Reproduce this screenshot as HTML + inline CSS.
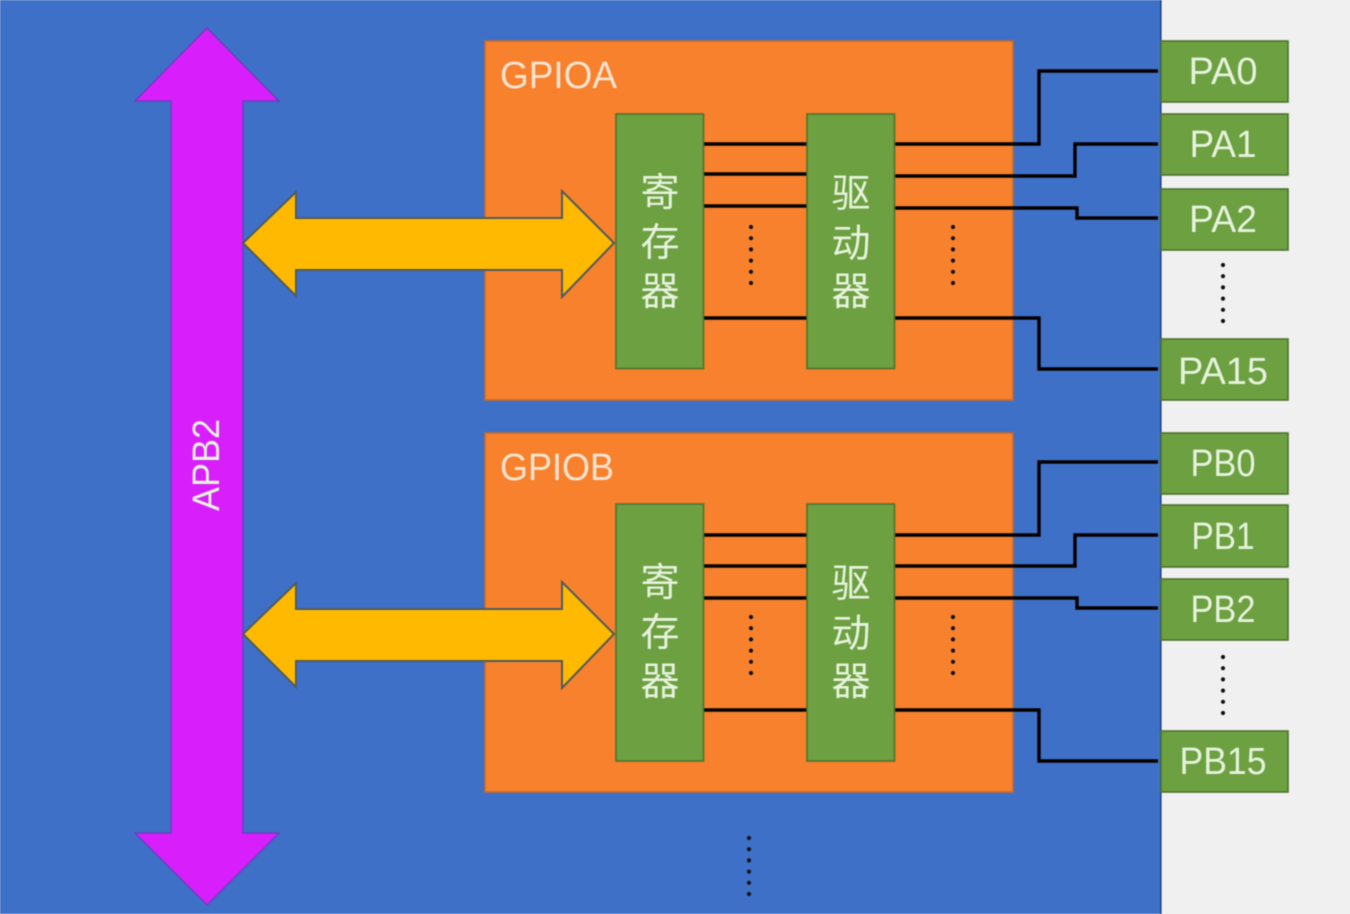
<!DOCTYPE html>
<html lang="zh">
<head>
<meta charset="utf-8">
<title>GPIO diagram</title>
<style>
html,body{margin:0;padding:0;background:#f0f0f0;width:1350px;height:914px;overflow:hidden}
svg{display:block;filter:blur(0.5px)}
text{font-family:"Liberation Sans","Noto Sans CJK SC",sans-serif;fill:#e6f2dc;text-anchor:middle}
.cjk{font-family:"Noto Sans CJK SC","WenQuanYi Zen Hei",sans-serif;font-weight:400;font-size:39px}
.pin{font-size:38px}
.title{font-size:38px;fill:#fbe3cf;text-anchor:start}
.g{fill:#6ca041;stroke:#4f722d;stroke-width:1.6}
.o{fill:#f7812d;stroke:#c86a2a;stroke-width:1.6}
.l{fill:none;stroke:#000;stroke-width:3.4}
.y{fill:#ffb900;stroke:#4f5b5c;stroke-width:2}
.d{fill:none;stroke:#111;stroke-width:4.2;stroke-linecap:round;stroke-dasharray:0 11.2}
</style>
</head>
<body>
<svg width="1350" height="914" viewBox="0 0 1350 914" xmlns="http://www.w3.org/2000/svg">
<rect width="1350" height="914" fill="#f0f0f0"/>
<rect x="0" y="0" width="1161" height="914" fill="#3f70c7"/>
<rect x="1160" y="0" width="1.6" height="914" fill="#23457f"/>

<!-- GPIO boxes -->
<rect class="o" x="485" y="41" width="528" height="359"/>
<rect class="o" x="485" y="433" width="528" height="359"/>
<text class="title" x="500" y="88" textLength="117" lengthAdjust="spacingAndGlyphs">GPIOA</text>
<text class="title" x="500" y="480" textLength="114" lengthAdjust="spacingAndGlyphs">GPIOB</text>

<!-- Lines A -->
<path class="l" d="M703 144H807M703 174H807M703 206H807M703 318H807"/>
<path class="l" d="M894 144H1039V71H1158M894 176H1075V144H1158M894 208H1077V218H1158M894 318H1039V369H1158"/>
<!-- Lines B -->
<path class="l" d="M703 535H807M703 566H807M703 598H807M703 710H807"/>
<path class="l" d="M894 535H1039V462H1158M894 566H1075V535H1158M894 598H1077V608H1158M894 710H1039V761H1158"/>

<!-- Magenta arrow -->
<polygon points="207,28 279,101 243,101 243,833 279,833 207,905 135,833 171,833 171,101 135,101" fill="#d81ffb" stroke="#6a3fc0" stroke-width="1.5"/>
<text x="0" y="0" transform="translate(219,465) rotate(-90)" font-size="38" textLength="92" lengthAdjust="spacingAndGlyphs">APB2</text>

<!-- Yellow arrows -->
<polygon class="y" points="243,243 296,192 296,218 562,218 562,191 614,243 562,297 562,270 296,270 296,296"/>
<polygon class="y" points="243,634 296,583 296,609 562,609 562,582 614,634 562,688 562,661 296,661 296,687"/>

<!-- Register / driver A -->
<rect class="g" x="616" y="114" width="87.5" height="254.5"/>
<rect class="g" x="807" y="114" width="87.5" height="254.5"/>
<text class="cjk" x="660" y="206">寄</text>
<text class="cjk" x="660" y="256">存</text>
<text class="cjk" x="660" y="305">器</text>
<text class="cjk" x="851" y="207">驱</text>
<text class="cjk" x="851" y="257">动</text>
<text class="cjk" x="851" y="305">器</text>

<!-- Register / driver B -->
<rect class="g" x="616" y="504" width="87.5" height="257"/>
<rect class="g" x="807" y="504" width="87.5" height="257"/>
<text class="cjk" x="660" y="596">寄</text>
<text class="cjk" x="660" y="646">存</text>
<text class="cjk" x="660" y="695">器</text>
<text class="cjk" x="851" y="597">驱</text>
<text class="cjk" x="851" y="647">动</text>
<text class="cjk" x="851" y="695">器</text>

<!-- Pins -->
<rect class="g" x="1161" y="41" width="127" height="61"/>
<rect class="g" x="1161" y="114" width="127" height="61"/>
<rect class="g" x="1161" y="189" width="127" height="61"/>
<rect class="g" x="1161" y="339" width="127" height="61"/>
<rect class="g" x="1161" y="433" width="127" height="61"/>
<rect class="g" x="1161" y="505" width="127" height="62"/>
<rect class="g" x="1161" y="579" width="127" height="61"/>
<rect class="g" x="1161" y="731" width="127" height="61"/>
<text class="pin" x="1223" y="84" textLength="69" lengthAdjust="spacingAndGlyphs">PA0</text>
<text class="pin" x="1223" y="157" textLength="67" lengthAdjust="spacingAndGlyphs">PA1</text>
<text class="pin" x="1223" y="232" textLength="68" lengthAdjust="spacingAndGlyphs">PA2</text>
<text class="pin" x="1223" y="384" textLength="90" lengthAdjust="spacingAndGlyphs">PA15</text>
<text class="pin" x="1223" y="476" textLength="65" lengthAdjust="spacingAndGlyphs">PB0</text>
<text class="pin" x="1223" y="549" textLength="63" lengthAdjust="spacingAndGlyphs">PB1</text>
<text class="pin" x="1223" y="622" textLength="65" lengthAdjust="spacingAndGlyphs">PB2</text>
<text class="pin" x="1223" y="774" textLength="87" lengthAdjust="spacingAndGlyphs">PB15</text>

<!-- Dots -->
<path class="d" d="M751 227V284"/>
<path class="d" d="M953 227V284"/>
<path class="d" d="M751 617V674"/>
<path class="d" d="M953 617V674"/>
<path class="d" d="M1223 265V322"/>
<path class="d" d="M1223 657V714"/>
<path class="d" d="M749 838V904"/>
</svg>
</body>
</html>
